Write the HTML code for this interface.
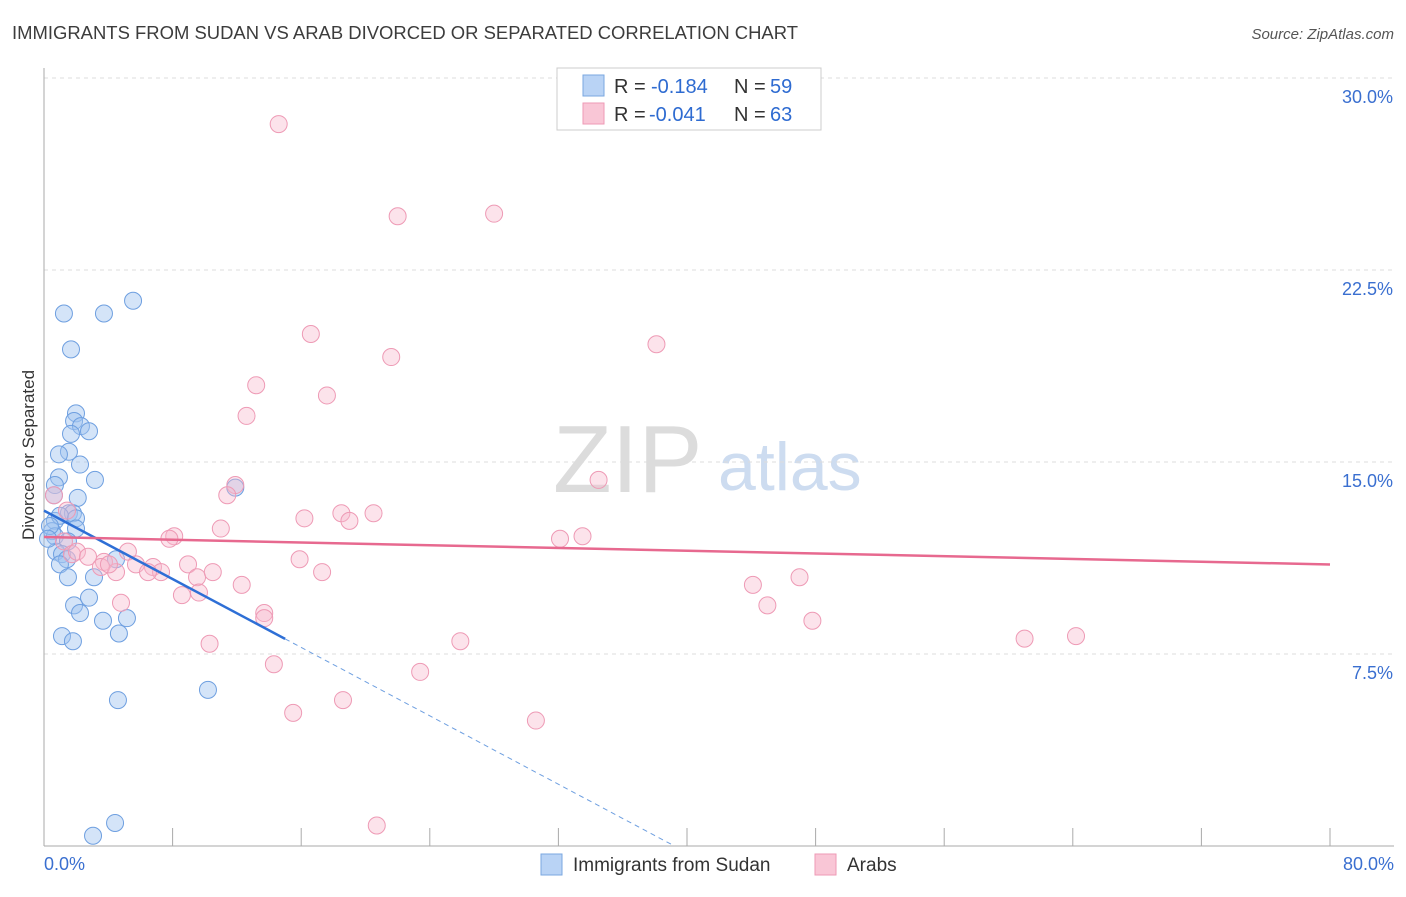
<!DOCTYPE html>
<html><head><meta charset="utf-8"><style>
body{margin:0;background:#fff;font-family:"Liberation Sans",sans-serif;}
svg text{font-family:"Liberation Sans",sans-serif;}
</style></head><body>
<svg id="chart" width="1406" height="892" xmlns="http://www.w3.org/2000/svg">
<text x="12" y="39" font-size="18" fill="#3c3c3c" textLength="786" lengthAdjust="spacingAndGlyphs">IMMIGRANTS FROM SUDAN VS ARAB DIVORCED OR SEPARATED CORRELATION CHART</text>
<text x="1394" y="39" font-size="15" fill="#555" text-anchor="end" font-style="italic">Source: ZipAtlas.com</text>
<text x="34" y="455" font-size="17" fill="#333" text-anchor="middle" transform="rotate(-90 34 455)">Divorced or Separated</text>
<text x="553" y="492" font-size="96" fill="#dcdcdc" font-family="Liberation Serif">ZIP</text>
<text x="718" y="490" font-size="68" fill="#cddcf0">atlas</text>
<g id="grid"></g><g id="axes"></g><g id="pts"></g><g id="lines"></g>
<g>
<rect x="557" y="68" width="264" height="62" fill="#fff" stroke="#ccc"/>
<rect x="583" y="75" width="21" height="21" fill="#b9d3f5" stroke="#7aa7e0"/>
<rect x="583" y="103" width="21" height="21" fill="#f9c6d6" stroke="#ee9ab5"/>
<text x="614" y="93" font-size="20" fill="#333">R =</text>
<text x="651" y="93" font-size="20" fill="#2e6bd1">-0.184</text>
<text x="734" y="93" font-size="20" fill="#333">N =</text>
<text x="770" y="93" font-size="20" fill="#2e6bd1">59</text>
<text x="614" y="121" font-size="20" fill="#333">R =</text>
<text x="649" y="121" font-size="20" fill="#2e6bd1">-0.041</text>
<text x="734" y="121" font-size="20" fill="#333">N =</text>
<text x="770" y="121" font-size="20" fill="#2e6bd1">63</text>
</g>
<g>
<rect x="541" y="854" width="21" height="21" fill="#b9d3f5" stroke="#7aa7e0"/>
<text x="573" y="871" font-size="19" fill="#333">Immigrants from Sudan</text>
<rect x="815" y="854" width="21" height="21" fill="#f9c6d6" stroke="#ee9ab5"/>
<text x="847" y="871" font-size="19" fill="#333">Arabs</text>
</g>
</svg>
<script>
const yTicks=[7.5,15,22.5,30];
const yTickLabels=["7.5%","15.0%","22.5%","30.0%"];
const xEndLabels=["0.0%","80.0%"];
const sudanX=[1.24,3.73,5.54,1.68,1.99,1.87,2.3,2.8,1.68,1.55,0.93,2.24,3.17,0.93,0.68,2.1,0.62,1.55,1.8,0.68,0.99,1.99,1.99,0.5,0.68,1.49,0.75,1.12,1.43,0.99,1.49,4.48,3.11,2.8,1.87,2.24,3.67,5.16,4.66,1.12,1.8,4.6,10.2,11.9,4.42,3.05,0.37,0.25];
const sudanY=[20.8,20.8,21.3,19.4,16.9,16.6,16.4,16.2,16.1,15.4,15.3,14.9,14.3,14.4,14.1,13.6,13.7,13.0,13.0,12.7,12.9,12.8,12.4,12.3,12.1,11.9,11.5,11.4,11.2,11.0,10.5,11.2,10.5,9.7,9.4,9.1,8.8,8.9,8.3,8.2,8.0,5.7,6.1,14.0,0.9,0.4,12.5,12.0];
const arabX=[14.6,22.0,28.0,16.6,21.6,38.1,13.2,17.6,12.6,34.5,11.9,11.4,0.62,18.5,20.5,16.2,19.0,11.0,1.43,8.1,7.8,33.5,32.1,1.24,1.74,2.05,2.74,3.73,5.22,5.72,6.78,7.28,6.47,4.48,3.54,4.04,8.96,9.52,10.5,15.9,17.3,12.3,8.58,9.64,4.79,13.7,13.7,44.1,47.0,45.0,47.8,61.0,64.2,25.9,10.3,14.3,23.4,18.6,15.5,30.6,20.7];
const arabY=[28.2,24.6,24.7,20.0,19.1,19.6,18.0,17.6,16.8,14.3,14.1,13.7,13.7,13.0,13.0,12.8,12.7,12.4,13.1,12.1,12.0,12.1,12.0,11.9,11.4,11.5,11.3,11.1,11.5,11.0,10.9,10.7,10.7,10.7,10.9,11.0,11.0,10.5,10.7,11.2,10.7,10.2,9.8,9.9,9.5,9.1,8.9,10.2,10.5,9.4,8.8,8.1,8.2,8.0,7.9,7.1,6.8,5.7,5.2,4.9,0.8];
const sudanTrend=[13.1,-0.334];
const arabTrend=[12.07,-0.0134];
const X0=44,X1=1330,Y0=846,Y30=78;
const sx=v=>X0+(v/80)*(X1-X0);
const sy=v=>Y0-(v/30)*(Y0-Y30);
const NS="http://www.w3.org/2000/svg";
function mk(tag,attrs,parent){const e=document.createElementNS(NS,tag);for(const k in attrs)e.setAttribute(k,attrs[k]);document.getElementById(parent).appendChild(e);return e;}
yTicks.forEach((t,i)=>{
 const g=mk('line',{x1:X0,x2:1394,y1:sy(t),y2:sy(t),stroke:'#ddd','stroke-dasharray':'4,4'},'grid');
 
 
 const l=mk('text',{x:1393,y:sy(t)+25,'font-size':18,fill:'#3a6fd0','text-anchor':'end'},'grid');
 l.textContent=yTickLabels[i];
 
 
});
const ax=mk('line',{x1:X0,x2:X0,y1:68,y2:Y0,stroke:'#aaa'},'axes');


const bx=mk('line',{x1:X0,x2:1394,y1:Y0,y2:Y0,stroke:'#aaa'},'axes');


for(let i=1;i<=10;i++){const t=mk('line',{x1:sx(i*8),x2:sx(i*8),y1:828,y2:Y0,stroke:'#aaa'},'axes');
 
 }
[[0,'start',44],[80,'end',1394]].forEach((d,i)=>{const t=mk('text',{x:d[2],y:870,'font-size':18,fill:'#3a6fd0','text-anchor':d[1]},'axes');t.textContent=xEndLabels[i];
 
 });
sudanX.forEach((x,i)=>{const c=mk('circle',{cx:sx(x),cy:sy(sudanY[i]),r:8.5,fill:'rgba(160,196,240,0.45)',stroke:'#6e9fe0','stroke-width':1},'pts');
 
 });
arabX.forEach((x,i)=>{const c=mk('circle',{cx:sx(x),cy:sy(arabY[i]),r:8.5,fill:'rgba(248,186,205,0.4)',stroke:'#ee9ab5','stroke-width':1},'pts');
 
 });
const f=(t,x)=>t[0]+t[1]*x;
const xEnd=-sudanTrend[0]/sudanTrend[1];
const l1=mk('line',{x1:sx(0),y1:sy(f(sudanTrend,0)),x2:sx(15),y2:sy(f(sudanTrend,15)),stroke:'#2e6fd6','stroke-width':2.5},'lines');


const l2=mk('line',{x1:sx(15),y1:sy(f(sudanTrend,15)),x2:sx(xEnd),y2:sy(0),stroke:'#6e9fe0','stroke-width':1,'stroke-dasharray':'5,4'},'lines');


const l3=mk('line',{x1:sx(0),y1:sy(f(arabTrend,0)),x2:sx(80),y2:sy(f(arabTrend,80)),stroke:'#e7698f','stroke-width':2.5},'lines');


</script>
</body></html>
